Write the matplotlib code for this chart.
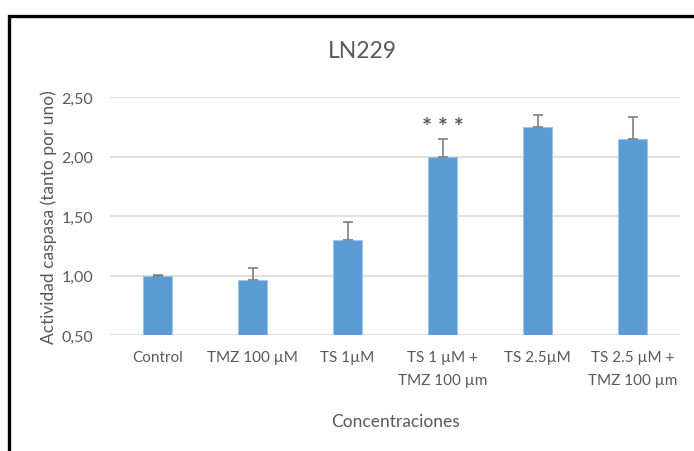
import matplotlib
matplotlib.use("Agg")
import matplotlib.pyplot as plt
from matplotlib.patches import Rectangle
from matplotlib.ticker import FuncFormatter

# --- data ---
categories = ["Control", "TMZ 100 µM", "TS 1µM", "TS 1 µM +\nTMZ 100 µm",
              "TS 2.5µM", "TS 2.5 µM +\nTMZ 100 µm"]
values = [0.995, 0.96, 1.295, 1.995, 2.25, 2.145]
errors = [0.01, 0.10, 0.155, 0.15, 0.10, 0.19]
yticks = [0.5, 1.0, 1.5, 2.0, 2.5]
stars = ["", "", "", "* * *", "", ""]

BAR = "#5B9BD5"
BAR_EDGE = "#9DC3E6"
TXT = "#595959"
GRID = "#D9D9D9"
ERR = "#7F7F7F"

plt.rcParams["font.family"] = ["Lato", "DejaVu Sans"]

fig = plt.figure(figsize=(6.94, 4.52), dpi=100)
ax = fig.add_axes([110 / 694, 116 / 452, 570 / 694, 238 / 452])

x = range(len(categories))
ax.bar(x, values, width=0.31, color=BAR, edgecolor=BAR_EDGE, linewidth=0.8, zorder=2)
ax.errorbar(x, values, yerr=[[0] * len(errors), errors], fmt="none",
            ecolor=ERR, elinewidth=1.2, capsize=3.5, capthick=1.2, zorder=3)
for xi, v, e, s in zip(x, values, errors, stars):
    if s:
        ax.text(xi, v + e + 0.0, s, ha="center", va="bottom", fontsize=17,
                color=TXT, fontweight="bold")

ax.set_xlim(-0.5, len(categories) - 0.5)
ax.set_ylim(0.5, 2.5)
ax.set_yticks(yticks)
ax.yaxis.set_major_formatter(FuncFormatter(lambda v, p: f"{v:.2f}".replace(".", ",")))
ax.set_xticks(list(x))
ax.set_xticklabels(categories, linespacing=1.75)
ax.tick_params(axis="both", length=0, colors=TXT)
ax.tick_params(axis="y", pad=12, labelsize=11.5)
ax.tick_params(axis="x", pad=11, labelsize=11)
ax.grid(axis="y", color=GRID, linewidth=1.2, zorder=0)
ax.set_axisbelow(True)
for sp in ax.spines.values():
    sp.set_visible(False)

ax.set_xlabel("Concentraciones", fontsize=12.5, color=TXT, labelpad=19)
ax.set_ylabel("Actividad caspasa (tanto por uno)", fontsize=12.5, color=TXT, labelpad=3)
fig.text(362 / 694, 1 - 52 / 452, "LN229", ha="center", va="center",
         fontsize=16.5, color=TXT)

# black frame cropped on the right and bottom, as in the screenshot
fig.patches.append(Rectangle((8.5 / 694, -0.2), 1.2, 1.2 - 16.5 / 452,
                             transform=fig.transFigure, fill=False,
                             edgecolor="black", linewidth=2.4))

fig.savefig("out.png", dpi=100)
